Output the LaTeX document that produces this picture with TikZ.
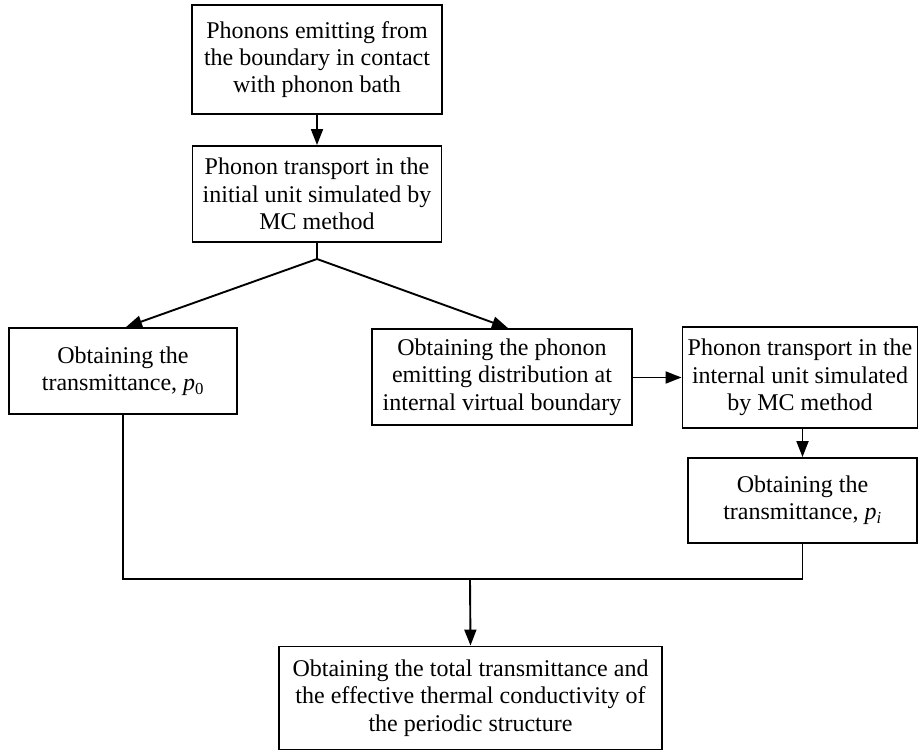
\documentclass[tikz,border=0pt]{standalone}
\usepackage{fontspec}
\setmainfont{Liberation Serif}
\usetikzlibrary{arrows.meta}
\begin{document}
\begin{tikzpicture}[x=1pt,y=-1pt,
  box/.style={draw, line width=1.9pt, align=center, inner sep=0pt,
    font=\fontsize{24}{27.3}\selectfont},
  conn/.style={line width=1.9pt},
  arr/.style={conn, -{Triangle[length=16pt,width=12pt]}}]
\useasboundingbox (0,0) rectangle (919,751);
\node[box, minimum width=250pt, minimum height=109pt] (b1) at (317,59.5)
  {Phonons emitting from\\the boundary in contact\\with phonon bath};
\node[box, minimum width=249pt, minimum height=96pt] (b2) at (317,194)
  {Phonon transport in the\\initial unit simulated by\\MC method};
\node[box, minimum width=228pt, minimum height=86pt] (b3) at (123,371)
  {Obtaining the\\transmittance, \textit{p}\textsubscript{0}};
\node[box, minimum width=260pt, minimum height=96pt] (b4) at (502,377)
  {Obtaining the phonon\\emitting distribution at\\internal virtual boundary};
\node[box, minimum width=235pt, minimum height=101pt] (b5) at (800,377.5)
  {Phonon transport in the\\internal unit simulated\\by MC method};
\node[box, minimum width=229pt, minimum height=85pt] (b6) at (802.5,500.5)
  {Obtaining the\\transmittance, \textit{p}\textsubscript{\textit{i}}};
\node[box, minimum width=383pt, minimum height=103pt] (b7) at (470.5,698)
  {Obtaining the total transmittance and\\the effective thermal conductivity of\\the periodic structure};
\coordinate (split) at (317,259);
\coordinate (join) at (470,579);
\draw[arr] (b1.south) -- (b2.north);
\draw[conn] (b2.south) -- (split);
\draw[arr] (split) -- ([xshift=3pt]b3.north);
\draw[arr] (split) -- ([xshift=6pt]b4.north);
\draw[arr] (b4.east |- b5.west) -- (b5.west);
\draw[arr] (b6.north |- b5.south) -- (b6.north);
\draw[conn] (b3.south) |- (join) -| (b6.south);
\draw[arr] (join) -- (b7.north);
\end{tikzpicture}
\end{document}
